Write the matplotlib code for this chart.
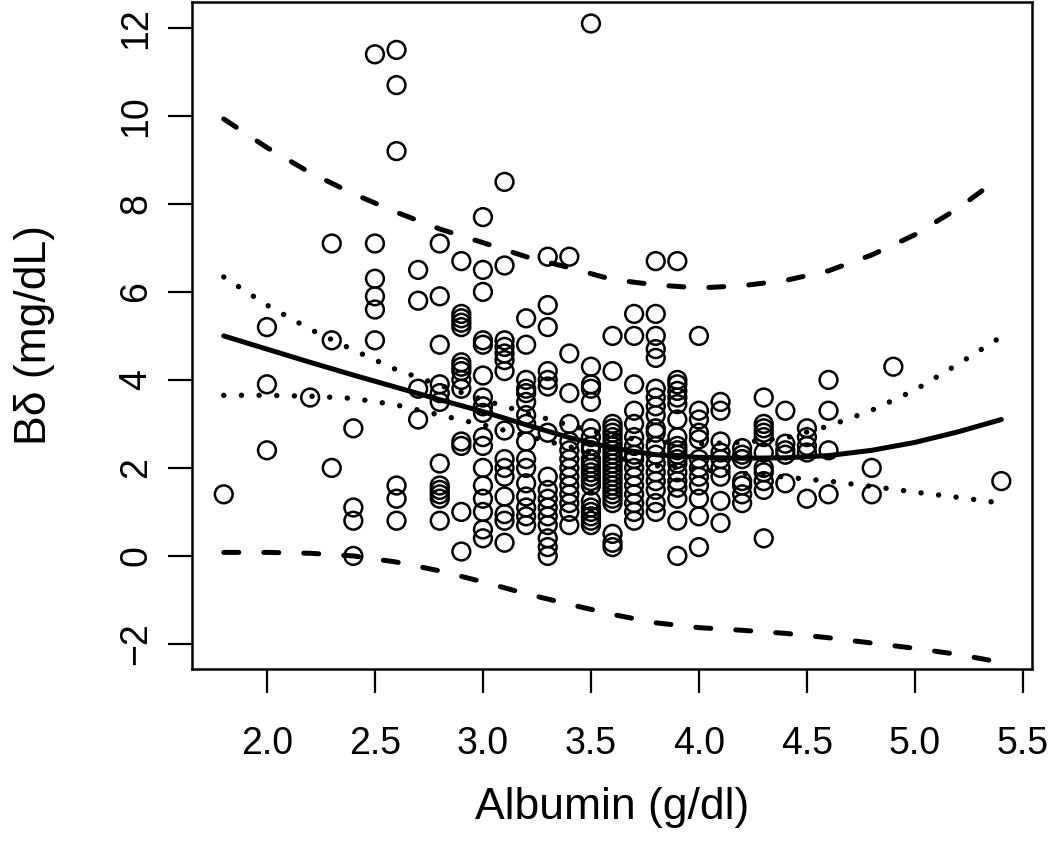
import matplotlib
matplotlib.use("Agg")
import matplotlib.pyplot as plt
import numpy as np

plt.rcParams['font.family'] = ['Liberation Sans', 'DejaVu Sans']

# Observed data: albumin level -> B-delta values
albumin_levels = [1.8, 2.0, 2.2, 2.3, 2.4, 2.5, 2.6, 2.7, 2.8, 2.9, 3.0, 3.1, 3.2, 3.3,
                  3.4, 3.5, 3.6, 3.7, 3.8, 3.9, 4.0, 4.1, 4.2, 4.3, 4.4, 4.5, 4.6,
                  4.8, 4.9, 5.4]
bdelta_groups = [
    [1.4],
    [5.2, 3.9, 2.4],
    [3.6],
    [7.1, 4.9, 2.0],
    [2.9, 1.1, 0.8, 0.0],
    [11.4, 7.1, 6.3, 5.9, 5.6, 4.9],
    [11.5, 10.7, 9.2, 1.6, 1.3, 0.8],
    [6.5, 5.8, 3.8, 3.1],
    [7.1, 5.9, 4.8, 3.9, 3.7, 3.5, 2.1, 1.6, 1.5, 1.4, 1.3, 0.8],
    [6.7, 5.5, 5.4, 5.3, 5.2, 4.4, 4.3, 4.2, 4.0, 3.8, 2.6, 2.5, 1.0, 0.1],
    [7.7, 6.5, 6.0, 4.9, 4.8, 4.1, 3.6, 3.4, 3.25, 2.7, 2.5, 2.0, 1.6, 1.3, 1.0, 0.6, 0.4],
    [8.5, 6.6, 4.9, 4.75, 4.6, 4.45, 4.2, 2.85, 2.2, 2.0, 1.8, 1.35, 0.95, 0.8, 0.3],
    [5.4, 4.8, 4.0, 3.8, 3.7, 3.5, 3.2, 3.0, 2.6, 2.2, 2.0, 1.65, 1.35, 1.1, 0.9, 0.7],
    [6.8, 5.7, 5.2, 4.2, 4.0, 3.85, 2.8, 1.8, 1.5, 1.3, 1.1, 0.9, 0.7, 0.4, 0.2, 0.0],
    [6.8, 4.6, 3.7, 3.0, 2.6, 2.4, 2.2, 2.0, 1.8, 1.6, 1.4, 1.2, 1.0, 0.7],
    [12.1, 4.3, 3.9, 3.8, 3.5, 2.9, 2.7, 2.5, 2.4, 2.2, 2.1, 2.0, 1.9, 1.8, 1.7, 1.6,
     1.25, 1.1, 1.0, 0.9, 0.8, 0.7],
    [5.0, 4.2, 3.0, 2.9, 2.8, 2.7, 2.6, 2.5, 2.4, 2.3, 2.2, 2.1, 2.0, 1.9, 1.8, 1.7,
     1.6, 1.5, 1.4, 1.3, 1.2, 0.5, 0.3, 0.2],
    [5.5, 5.0, 3.9, 3.3, 3.0, 2.7, 2.5, 2.3, 2.2, 2.0, 1.8, 1.6, 1.4, 1.2, 1.0, 0.8],
    [6.7, 5.5, 5.0, 4.7, 4.5, 3.8, 3.6, 3.4, 3.2, 2.9, 2.8, 2.5, 2.3, 2.1, 1.9, 1.7,
     1.5, 1.2, 1.0],
    [6.7, 4.0, 3.9, 3.75, 3.6, 3.45, 3.1, 2.7, 2.5, 2.4, 2.3, 2.2, 2.1, 1.9, 1.7,
     1.55, 1.3, 0.8, 0.0],
    [5.0, 3.3, 3.1, 2.8, 2.65, 2.2, 2.0, 1.8, 1.6, 1.3, 0.9, 0.2],
    [3.5, 3.3, 2.6, 2.35, 2.2, 2.0, 1.8, 1.25, 0.75],
    [2.45, 2.3, 2.2, 1.7, 1.6, 1.4, 1.2],
    [3.6, 3.0, 2.9, 2.8, 2.7, 2.35, 2.0, 1.9, 1.7, 1.5, 0.4],
    [3.3, 2.55, 2.4, 2.3, 1.65],
    [2.9, 2.7, 2.5, 2.35, 1.3],
    [4.0, 3.3, 2.4, 1.4],
    [2.0, 1.4],
    [4.3],
    [1.7],
]

# Fitted curve and intervals
curve_x = [1.8, 2.0, 2.2, 2.4, 2.6, 2.8, 3.0, 3.2, 3.4, 3.6, 3.8, 4.0, 4.2, 4.4,
           4.6, 4.8, 5.0, 5.2, 5.4]
fit_mean = [5.0, 4.70, 4.40, 4.11, 3.83, 3.55, 3.28, 2.98, 2.69, 2.45, 2.30, 2.24,
            2.22, 2.23, 2.28, 2.40, 2.58, 2.82, 3.10]
conf_upper = [6.34, 5.70, 5.15, 4.68, 4.23, 3.88, 3.55, 3.25, 2.97, 2.72, 2.60, 2.55,
              2.58, 2.68, 2.95, 3.31, 3.77, 4.36, 4.98]
conf_lower = [3.65, 3.65, 3.63, 3.58, 3.43, 3.20, 2.98, 2.73, 2.48, 2.25, 2.05, 1.96,
              1.88, 1.79, 1.70, 1.58, 1.45, 1.33, 1.20]
pred_upper = [9.93, 9.28, 8.71, 8.23, 7.81, 7.43, 7.12, 6.80, 6.55, 6.28, 6.16, 6.09,
              6.14, 6.26, 6.48, 6.84, 7.30, 7.90, 8.62]
pred_lower = [0.08, 0.08, 0.06, 0.0, -0.14, -0.34, -0.59, -0.86, -1.10, -1.33, -1.52,
              -1.63, -1.69, -1.76, -1.86, -1.98, -2.10, -2.24, -2.42]

xs = np.concatenate([[x] * len(g) for x, g in zip(albumin_levels, bdelta_groups)])
ys = np.concatenate([np.array(g, dtype=float) for g in bdelta_groups])

fig = plt.figure(figsize=(10.5, 8.6), dpi=100)
ax = fig.add_axes([192 / 1050, 1 - 669 / 860, 840 / 1050, 667.5 / 860])

ax.scatter(xs, ys, s=12.8 ** 2, facecolors='none', edgecolors='black',
           linewidths=1.8, zorder=2)

lw = 3.6
ax.plot(curve_x, fit_mean, color='black', lw=lw, solid_capstyle='round', zorder=3)
ax.plot(curve_x, conf_upper, color='black', lw=3.9, dash_capstyle='round',
        linestyle=(0, (0.01, 3.25)), zorder=3)
ax.plot(curve_x, conf_lower, color='black', lw=3.9, dash_capstyle='round',
        linestyle=(0, (0.01, 3.25)), zorder=3)
ax.plot(curve_x, pred_upper, color='black', lw=lw, dash_capstyle='round',
        linestyle=(0, (3.0, 5.0)), zorder=3)
ax.plot(curve_x, pred_lower, color='black', lw=lw, dash_capstyle='round',
        linestyle=(0, (3.0, 5.0)), zorder=3)

ax.set_xlim(1.653, 5.542)
ax.set_ylim(-2.57, 12.6)
ax.set_xticks([2.0, 2.5, 3.0, 3.5, 4.0, 4.5, 5.0, 5.5])
ax.set_xticklabels(['2.0', '2.5', '3.0', '3.5', '4.0', '4.5', '5.0', '5.5'])
ax.set_yticks([-2, 0, 2, 4, 6, 8, 10, 12])
ax.set_yticklabels(['\u22122', '0', '2', '4', '6', '8', '10', '12'],
                   rotation=90, va='center')

for sp in ax.spines.values():
    sp.set_linewidth(1.8)
ax.tick_params(axis='both', length=17, width=1.6, labelsize=27, direction='out')
ax.tick_params(axis='x', pad=24)
ax.tick_params(axis='y', pad=10)

ax.set_xlabel('Albumin (g/dl)', fontsize=32, labelpad=18)
ax.set_ylabel('B\u03b4 (mg/dL)', fontsize=32, labelpad=46)

fig.savefig('out.png', dpi=100)
